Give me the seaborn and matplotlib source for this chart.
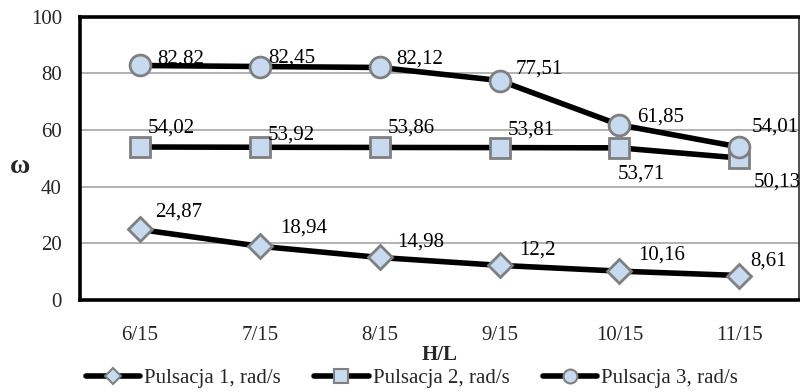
import numpy as np
import pandas as pd
import matplotlib
matplotlib.use('Agg')
import matplotlib.pyplot as plt
from matplotlib.lines import Line2D
import seaborn as sns

# data
categories = ['6/15', '7/15', '8/15', '9/15', '10/15', '11/15']
series_names = ['Pulsacja 1, rad/s', 'Pulsacja 2, rad/s', 'Pulsacja 3, rad/s']
pulsacja_1 = [24.87, 18.94, 14.98, 12.2, 10.16, 8.61]
pulsacja_2 = [54.02, 53.92, 53.86, 53.81, 53.71, 50.13]
pulsacja_3 = [82.82, 82.45, 82.12, 77.51, 61.85, 54.01]
y_ticks = [0, 20, 40, 60, 80, 100]

# label offsets in pixels (dx to left edge, dy up)
label_offsets = [
    [(15, 17), (20, 18), (18, 15), (20, 15), (19, 16), (11, 14)],
    [(8, 19), (8, 12), (8, 19), (8, 18), (-2, -26), (14, -24)],
    [(17, 6), (8, 8), (17, 8), (16, 11), (18, 8), (12, 20)],
]

sns.set_theme(style='white')
plt.rcParams['font.family'] = ['Liberation Serif', 'DejaVu Serif']
FS = 15

rows = []
for name, vals in zip(series_names, [pulsacja_1, pulsacja_2, pulsacja_3]):
    for i, v in enumerate(vals):
        rows.append({'pos': i, 'val': v, 'series': name})
df = pd.DataFrame(rows)

fig = plt.figure(figsize=(8, 3.92), dpi=100)
ax = fig.add_axes([0.1, 0.235, 0.899, 0.722])

markers = {series_names[0]: 'D', series_names[1]: 's', series_names[2]: 'o'}
sns.lineplot(data=df, x='pos', y='val', hue='series', style='series',
             palette=['black'] * 3, markers=markers, dashes=False,
             estimator=None, sort=False, linewidth=4.0, markersize=14,
             legend=False, ax=ax, zorder=3)

face = '#c8daf0'
edge = '#7f7f7f'
sizes = {'D': 12, 's': 14, 'o': 15}
for line in ax.lines:
    line.set_markerfacecolor(face)
    line.set_markeredgecolor(edge)
    line.set_markeredgewidth(2.0)
    line.set_markersize(sizes[line.get_marker()])

# data labels
for name, vals, offs in zip(series_names, [pulsacja_1, pulsacja_2, pulsacja_3], label_offsets):
    for i, (v, (dx, dy)) in enumerate(zip(vals, offs)):
        txt = ('%g' % v).replace('.', ',')
        ax.annotate(txt, (i, v), xytext=(dx, dy), textcoords='offset pixels',
                    ha='left', va='center', fontsize=FS, color='black',
                    annotation_clip=False, zorder=4)

ax.set_xlim(-0.5, len(categories) - 0.5)
ax.set_ylim(0, 100)
ax.set_xticks(range(len(categories)))
ax.set_xticklabels(categories, fontsize=FS)
ax.set_yticks(y_ticks)
ax.set_yticklabels([str(t) for t in y_ticks], fontsize=FS)
ax.tick_params(axis='x', length=0, pad=19)
ax.tick_params(axis='y', length=0, pad=13)

for y in y_ticks[1:-1]:
    ax.axhline(y, color='#a6a6a6', linewidth=1.2, zorder=1)

for s in ['left', 'top', 'bottom']:
    ax.spines[s].set_color('black')
    ax.spines[s].set_linewidth(2.6)
ax.spines['right'].set_color('#303030')
ax.spines['right'].set_linewidth(1.2)

ax.set_xlabel('H/L', fontsize=FS, fontweight='bold', labelpad=0)
ax.set_ylabel('ω', fontsize=20, fontweight='bold', rotation=0, va='center')
ax.yaxis.set_label_coords(-0.083, 0.47)

leg_sizes = {'D': 8, 's': 10, 'o': 10}
handles = [Line2D([], [], color='black', linewidth=4.0, marker=m,
                  markersize=leg_sizes[m], markerfacecolor=face,
                  markeredgecolor=edge, markeredgewidth=1.5)
           for m in ['D', 's', 'o']]
fig.legend(handles, series_names, loc='center', bbox_to_anchor=(0.515, 0.035),
           ncol=3, frameon=False, fontsize=FS, handlelength=2.6,
           columnspacing=1.6, handletextpad=0.2)

fig.savefig('out.png', dpi=100)
